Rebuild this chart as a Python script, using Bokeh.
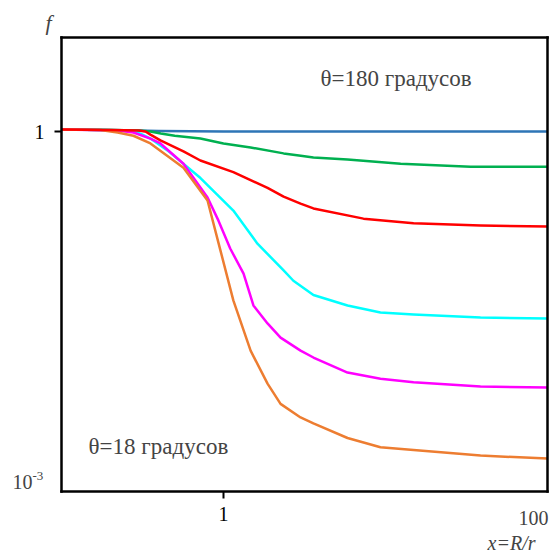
from bokeh.plotting import figure
from bokeh.models import Range1d, FixedTicker, Label, LogAxis
from bokeh.embed import file_html
from bokeh.resources import INLINE

# f(x) curves, x = R/r, for several angles theta
x_blue = [0.1, 0.2, 0.4, 1.0, 3.0, 10.0, 30.0, 100.0]
f_blue = [1.04, 1.03, 1.01, 1.0, 1.0, 1.0, 1.0, 1.0]

x_green = [0.1, 0.2, 0.3, 0.354, 0.41, 0.5, 0.72, 1.0, 1.47, 2.35, 3.0, 3.59, 5.83, 12.4, 33.5, 100.0]
f_green = [1.04, 1.03, 1.02, 1.0, 0.96, 0.92, 0.87, 0.79, 0.73, 0.65, 0.62, 0.60, 0.576, 0.53, 0.50, 0.50]

x_red = [0.1, 0.2, 0.3, 0.33, 0.354, 0.408, 0.566, 0.72, 1.15, 1.87, 2.35, 2.99, 3.59, 7.31, 14.9, 38.6, 100.0]
f_red = [1.04, 1.03, 1.02, 1.0, 0.94, 0.84, 0.675, 0.565, 0.45, 0.33, 0.278, 0.242, 0.22, 0.18, 0.164, 0.157, 0.154]

x_cyan = [0.1, 0.174, 0.222, 0.278, 0.307, 0.354, 0.451, 0.721, 1.15, 1.62, 2.35, 2.70, 3.59, 5.83, 9.31, 14.9, 38.6, 100.0]
f_cyan = [1.04, 1.03, 1.02, 1.0, 0.96, 0.87, 0.69, 0.40, 0.211, 0.110, 0.065, 0.053, 0.040, 0.0326, 0.0284, 0.0273, 0.0257, 0.0252]

x_magenta = [0.1, 0.222, 0.278, 0.354, 0.408, 0.566, 0.797, 0.931, 1.10, 1.33, 1.53, 1.87, 2.25, 2.99, 3.59, 5.83, 9.31, 14.9, 38.6, 100.0]
f_magenta = [1.04, 1.02, 0.98, 0.87, 0.79, 0.53, 0.273, 0.173, 0.100, 0.061, 0.0326, 0.0229, 0.0173, 0.0134, 0.0117, 0.0087, 0.0077, 0.0072, 0.0066, 0.0065]

x_orange = [0.1, 0.174, 0.222, 0.278, 0.354, 0.566, 0.797, 0.958, 1.15, 1.47, 1.87, 2.25, 2.99, 3.59, 5.83, 9.31, 14.9, 38.6, 100.0]
f_orange = [1.04, 1.03, 0.98, 0.92, 0.79, 0.49, 0.257, 0.096, 0.036, 0.0134, 0.0070, 0.0047, 0.0036, 0.0032, 0.0024, 0.0020, 0.0019, 0.0017, 0.0016]

x_ticks = [1]
y_ticks = [1]

# plotting box (log axes) and the surrounding view, which holds the outer labels
X_MIN, X_MAX = 0.1, 100.0
Y_MIN, Y_MAX = 10 ** -3.077, 10 ** 0.803
X_VIEW = (10 ** -1.3765, 10 ** 2.0185)
Y_VIEW = (10 ** -3.6154, 10 ** 1.1197)

SERIF = "Liberation Serif"

p = figure(width=550, height=554, x_axis_type="log", y_axis_type="log",
           x_range=Range1d(*X_VIEW), y_range=Range1d(*Y_VIEW),
           output_backend="svg", toolbar_location=None,
           min_border=0)
p.grid.visible = False
p.background_fill_color = "white"
p.border_fill_color = "white"
p.outline_line_color = None


def style_axis(ax):
    ax.axis_line_color = "black"
    ax.axis_line_width = 2.5
    ax.axis_line_cap = "square"
    ax.minor_tick_line_color = None
    ax.major_tick_in = 0
    ax.major_tick_out = 7
    ax.major_tick_line_width = 2
    ax.major_tick_line_color = "black"
    ax.major_label_text_font = SERIF
    ax.major_label_text_font_size = "20px"
    ax.major_label_text_color = "black"
    ax.major_label_overrides = {1: "1"}


xb = p.xaxis[0]
yl = p.yaxis[0]
xb.fixed_location = Y_MIN
xb.bounds = (X_MIN, X_MAX)
xb.ticker = FixedTicker(ticks=x_ticks)
yl.fixed_location = X_MIN
yl.bounds = (Y_MIN, Y_MAX)
yl.ticker = FixedTicker(ticks=y_ticks)
style_axis(xb)
style_axis(yl)
xb.major_label_standoff = 8
yl.major_label_standoff = 10

# closing sides of the box
xt = LogAxis(fixed_location=Y_MAX, bounds=(X_MIN, X_MAX), ticker=FixedTicker(ticks=[]))
yr = LogAxis(fixed_location=X_MAX, bounds=(Y_MIN, Y_MAX), ticker=FixedTicker(ticks=[]))
style_axis(xt)
style_axis(yr)
p.add_layout(xt, "above")
p.add_layout(yr, "right")

series = [
    (x_blue, f_blue, "#2E75B6"),
    (x_green, f_green, "#00B050"),
    (x_cyan, f_cyan, "#00FFFF"),
    (x_magenta, f_magenta, "#FF00FF"),
    (x_orange, f_orange, "#ED7D31"),
    (x_red, f_red, "#FF0000"),
]
for xs, fs, color in series:
    p.line(xs, fs, line_color=color, line_width=2.5, line_join="round")

# annotations inside the box
p.add_layout(Label(x=3.97, y=2.84, text="θ=180 градусов", text_align="left",
                   text_baseline="middle", text_font=SERIF, text_font_size="23px"))
p.add_layout(Label(x=0.147, y=0.00203, text="θ=18 градусов", text_align="left",
                   text_baseline="middle", text_font=SERIF, text_font_size="23px"))

# remaining tick labels
p.add_layout(Label(x=X_MAX, y=Y_MIN, x_offset=1, y_offset=-26, text="100",
                   text_align="right", text_baseline="middle",
                   text_font=SERIF, text_font_size="20px"))
p.add_layout(Label(x=X_MIN, y=1e-3, x_offset=-29, y_offset=0, text="10",
                   text_align="right", text_baseline="middle",
                   text_font=SERIF, text_font_size="20px"))
p.add_layout(Label(x=X_MIN, y=1e-3, x_offset=-29, y_offset=6, text="-3",
                   text_align="left", text_baseline="middle",
                   text_font=SERIF, text_font_size="13px"))

# axis titles
p.add_layout(Label(x=X_MIN, y=Y_MAX, x_offset=-13, y_offset=15, text="f",
                   text_align="center", text_baseline="middle",
                   text_font=SERIF, text_font_style="italic", text_font_size="22px"))
p.add_layout(Label(x=X_MAX, y=Y_MIN, x_offset=-36, y_offset=-51, text="x=R/r",
                   text_align="center", text_baseline="middle",
                   text_font=SERIF, text_font_style="italic", text_font_size="20px"))

open("out.html", "w").write(file_html(p, INLINE))
